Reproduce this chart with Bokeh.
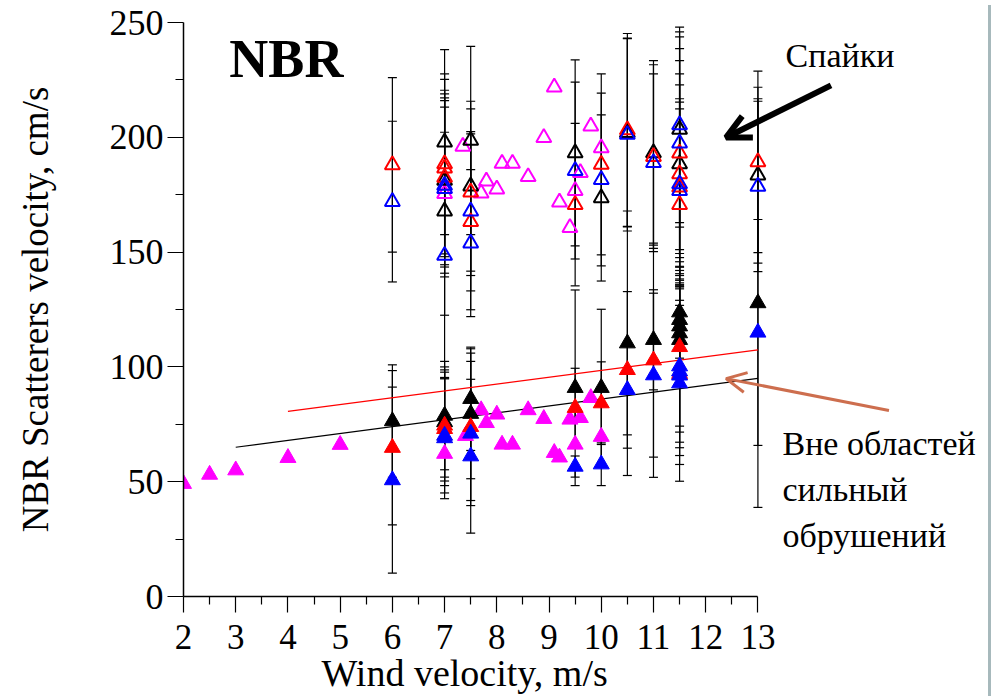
from bokeh.plotting import figure
from bokeh.models import (ColumnDataSource, Whisker, TeeHead, Label, Arrow, OpenHead,
                          FixedTicker, Range1d, Div, Title)
from bokeh.layouts import row
from bokeh.embed import file_html
from bokeh.resources import INLINE

# ---------------- data ----------------
# "spikes" (open triangles)
black_open_x = [7, 7, 7, 7.5, 7.5, 9.5, 10, 10.5, 11, 11.5, 11.5, 13]
black_open_y = [197.9, 181.2, 167.8, 198.6, 178.7, 193.2, 173.6, 202.0, 193.2, 203.4, 188.4, 183.5]
black_open_err = [40.3, 37.7, 45.3, 41.0, 37.0, 40.5, 36.2, 41.0, 40.2, 42.5, 45.0, 38.3]

red_open_x = [6, 7, 7, 7, 7.5, 7.5, 9.5, 10, 10.5, 11, 11.5, 11.5, 11.5, 11.5, 13]
red_open_y = [188.0, 188.4, 186.6, 182.5, 176.1, 163.2, 170.7, 188.2, 203.2, 191.6, 193.1, 184.1, 178.3, 170.7, 189.3]
red_open_err = [38.0, 39.2, 38.6, 38.0, 36.3, 38.3, 35.4, 39.4, 42.0, 40.0, 45.5, 43.5, 38.5, 41.7, 39.5]

blue_open_x = [6, 7, 7, 7, 7.5, 7.5, 9.5, 10, 10.5, 11, 11.5, 11.5, 11.5, 11.5, 13]
blue_open_y = [172.0, 179.0, 177.6, 148.5, 167.8, 153.9, 185.5, 181.6, 201.2, 188.9, 205.4, 197.4, 179.7, 176.8, 178.6]
blue_open_err = [35.0, 38.2, 38.4, 53.7, 34.7, 32.0, 38.5, 37.6, 42.0, 38.7, 42.6, 46.3, 43.1, 38.5, 37.1]

magenta_open_x = [7, 7.35, 7.7, 7.8, 8.0, 8.1, 8.3, 8.6, 8.9, 9.1, 9.2, 9.4, 9.5, 9.6, 9.8, 10]
magenta_open_y = [175.4, 196.0, 175.7, 180.9, 177.4, 188.6, 188.6, 182.8, 199.8, 221.8, 171.7, 160.6, 176.8, 184.6, 204.8, 195.4]

# outside strong breaking areas (filled triangles)
black_x = [6, 7, 7, 7.5, 7.5, 9.5, 10, 10.5, 11, 11.5, 11.5, 11.5, 11.5, 11.5, 13]
black_y = [76.4, 78.8, 76.0, 86.1, 79.6, 90.9, 90.9, 110.3, 111.8, 123.8, 120.5, 117.7, 114.7, 111.8, 127.8]
black_err = [24.5, 23.6, 24.0, 22.5, 28.3, 42.6, 34.2, 57.6, 21.8, 20.0, 21.5, 20.0, 19.3, 37.6, 89.0]

red_x = [6, 7, 7, 7.5, 9.5, 10, 10.5, 11, 11.5, 11.5]
red_y = [64.8, 74.5, 73.0, 73.9, 82.2, 84.2, 98.7, 102.9, 108.7, 97.0]
red_err = [33.6, 24.2, 24.7, 32.1, 17.2, 18.0, 34.1, 51.0, 37.1, 29.8]

blue_x = [6, 7, 7, 7.5, 7.5, 9.5, 10, 10.5, 11, 11.5, 11.5, 11.5, 11.5, 13]
blue_y = [50.7, 70.1, 69.0, 71.0, 61.1, 56.6, 57.6, 90.0, 96.4, 100.3, 98.1, 96.3, 92.9, 115.0]
blue_err = [40.5, 25.0, 26.4, 31.4, 33.5, 4.6, 9.3, 19.6, 35.7, 35.5, 36.7, 38.8, 42.7, 49.2]

magenta_x = [2, 2.5, 3, 4, 5, 7, 7.4, 7.7, 7.8, 8.0, 8.1, 8.3, 8.6, 8.9, 9.1, 9.2, 9.4, 9.5, 9.6, 9.8, 10]
magenta_y = [49.1, 53.1, 55.0, 60.4, 66.1, 62.2, 70.0, 81.2, 75.6, 79.3, 66.2, 66.2, 81.2, 77.4, 62.6, 60.6, 77.1, 66.2, 77.8, 86.5, 69.6]

# linear fits
fit_black_x = [3, 13]
fit_black_y = [65.0, 95.0]
fit_red_x = [4, 13]
fit_red_y = [80.6, 107.4]

x_ticks = [2, 3, 4, 5, 6, 7, 8, 9, 10, 11, 12, 13]
x_minor = [2.5, 3.5, 4.5, 5.5, 6.5, 7.5, 8.5, 9.5, 10.5, 11.5, 12.5]
y_ticks = [0, 50, 100, 150, 200, 250]
y_minor = [25, 75, 125, 175, 225]

FONT = "Liberation Serif"

# ---------------- figure ----------------
p = figure(frame_width=800, frame_height=574,
           x_range=Range1d(2, 17.32), y_range=Range1d(0, 250),
           min_border_left=183, min_border_right=0, min_border_top=22, min_border_bottom=100,
           output_backend="svg", toolbar_location=None, tools="")
p.outline_line_color = None
p.grid.visible = False
p.background_fill_color = "white"
p.border_fill_color = "white"

for ax in (p.xaxis[0], p.yaxis[0]):
    ax.axis_line_color = "black"
    ax.axis_line_width = 1.5
    ax.major_tick_line_color = "black"
    ax.minor_tick_line_color = "black"
    ax.major_tick_line_width = 1.2
    ax.minor_tick_line_width = 1.2
    ax.major_tick_in = 0
    ax.major_tick_out = 16
    ax.minor_tick_in = 0
    ax.minor_tick_out = 8
    ax.major_label_text_font = FONT
    ax.major_label_text_color = "black"
    ax.axis_label_text_font = FONT
    ax.axis_label_text_font_style = "normal"
    ax.axis_label_text_color = "black"

p.xaxis[0].ticker = FixedTicker(ticks=x_ticks, minor_ticks=x_minor)
p.yaxis[0].ticker = FixedTicker(ticks=y_ticks, minor_ticks=y_minor)
p.xaxis[0].bounds = (2, 13)
p.xaxis[0].major_label_text_font_size = "35px"
p.yaxis[0].major_label_text_font_size = "36px"
p.yaxis[0].axis_label = "NBR Scatterers velocity, cm/s"
p.yaxis[0].axis_label_text_font_size = "37px"
p.xaxis[0].major_label_standoff = 12
p.yaxis[0].major_label_standoff = 4
p.yaxis[0].axis_label_standoff = 51

# x-axis title, centred under the 2..13 part of the axis
p.add_layout(Title(text="Wind velocity, m/s", align="left", offset=138, standoff=0,
                   vertical_align="top",
                   text_font=FONT, text_font_size="38px", text_font_style="normal",
                   text_color="black"), "below")

# ---------------- error bars ----------------
def add_whiskers(xs, ys, errs):
    src = ColumnDataSource(dict(x=xs,
                                lo=[y - e for y, e in zip(ys, errs)],
                                hi=[y + e for y, e in zip(ys, errs)]))
    w = Whisker(base="x", lower="lo", upper="hi", source=src,
                line_color="black", line_width=1.2,
                upper_head=TeeHead(size=9, line_color="black", line_width=1.2),
                lower_head=TeeHead(size=9, line_color="black", line_width=1.2))
    p.add_layout(w)

add_whiskers(black_open_x, black_open_y, black_open_err)
add_whiskers(red_open_x, red_open_y, red_open_err)
add_whiskers(blue_open_x, blue_open_y, blue_open_err)
add_whiskers(black_x, black_y, black_err)
add_whiskers(red_x, red_y, red_err)
add_whiskers(blue_x, blue_y, blue_err)

# ---------------- fit lines ----------------
p.line(fit_red_x, fit_red_y, line_color="#ff0000", line_width=1.2)
p.line(fit_black_x, fit_black_y, line_color="black", line_width=1.2)

# ---------------- markers ----------------
p.scatter(magenta_open_x, magenta_open_y, marker="triangle", size=15,
          fill_color=None, line_color="#ff00ff", line_width=2)
p.scatter(black_open_x, black_open_y, marker="triangle", size=15,
          fill_color=None, line_color="black", line_width=2)
p.scatter(red_open_x, red_open_y, marker="triangle", size=15,
          fill_color=None, line_color="#ff0000", line_width=2)
p.scatter(blue_open_x, blue_open_y, marker="triangle", size=15,
          fill_color=None, line_color="#0000ff", line_width=2)

p.scatter(magenta_x, magenta_y, marker="triangle", size=16,
          fill_color="#ff00ff", line_color="#ff00ff", line_width=1)
p.scatter(black_x, black_y, marker="triangle", size=16,
          fill_color="black", line_color="black", line_width=1)
p.scatter(red_x, red_y, marker="triangle", size=16,
          fill_color="#ff0000", line_color="#ff0000", line_width=1)
p.scatter(blue_x, blue_y, marker="triangle", size=16,
          fill_color="#0000ff", line_color="#0000ff", line_width=1)

# ---------------- annotations ----------------
p.add_layout(Label(x=3.97, y=234.3, text="NBR", text_font=FONT, text_font_size="54px",
                   text_font_style="bold", text_align="center", text_baseline="middle",
                   text_color="black"))
p.add_layout(Label(x=13.53, y=235.6, text="Спайки", text_font=FONT, text_font_size="34px",
                   text_align="left", text_baseline="middle", text_color="black"))
for yy, t in zip([66.5, 46.5, 26.5], ["Вне областей", "сильный", "обрушений"]):
    p.add_layout(Label(x=13.47, y=yy, text=t, text_font=FONT, text_font_size="34px",
                       text_align="left", text_baseline="middle", text_color="black"))

p.add_layout(Arrow(end=OpenHead(size=24, line_width=6, line_color="black"),
                   x_start=14.40, y_start=222.6, x_end=12.39, y_end=199.9,
                   line_width=6, line_color="black"))
p.add_layout(Arrow(end=OpenHead(size=20, line_width=3, line_color="#cd6e4e"),
                   x_start=15.51, y_start=81.0, x_end=12.39, y_end=94.9,
                   line_width=3, line_color="#cd6e4e"))

# slide border on the right
border = Div(text="", width=13, height=696,
             styles={"border-left": "3px solid #a7b9bc", "box-sizing": "border-box",
                     "height": "696px", "background": "white"})

layout = row(p, border, spacing=0)
open("out.html", "w").write(file_html(layout, INLINE))
